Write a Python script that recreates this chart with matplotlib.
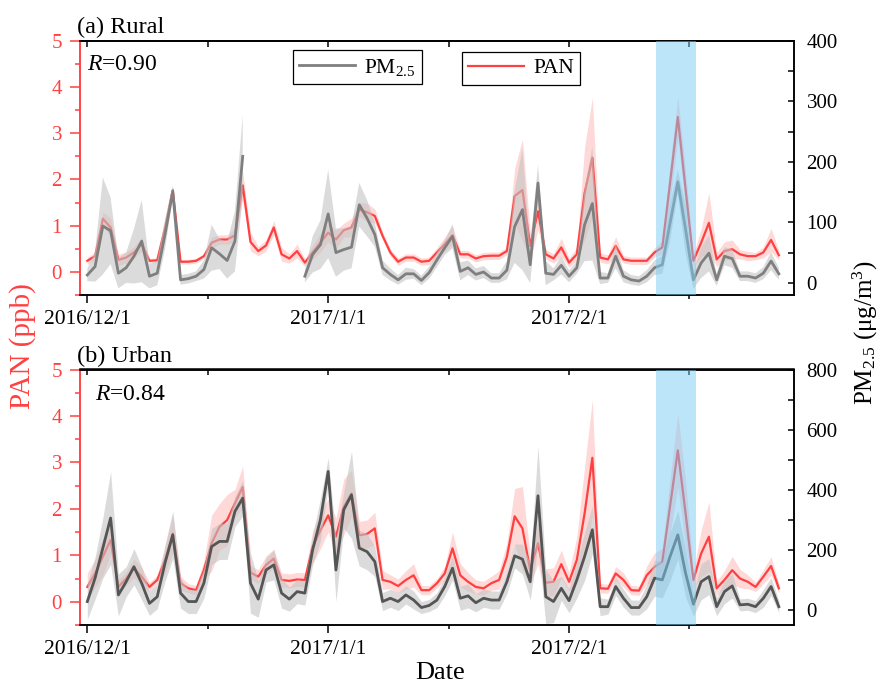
import numpy as np
import pandas as pd
import matplotlib
matplotlib.use("Agg")
import matplotlib.pyplot as plt
import matplotlib.dates as mdates

plt.rcParams['font.family'] = ['Liberation Serif', 'DejaVu Serif']
plt.rcParams['mathtext.fontset'] = 'custom'
plt.rcParams['mathtext.rm'] = 'Liberation Serif'
plt.rcParams['mathtext.it'] = 'Liberation Serif:italic'

# daily data, 2016/12/1 - 2017/2/28
dates = pd.date_range('2016-12-01', '2017-02-28', freq='D')

pan_rural = [0.24, 0.34, 1.15, 0.96, 0.26, 0.31, 0.42, 0.60, 0.24, 0.25,
             0.95, 1.77, 0.22, 0.22, 0.24, 0.34, 0.63, 0.70, 0.70, 0.79,
             1.87, 0.65, 0.45, 0.57, 0.96, 0.38, 0.29, 0.45, 0.20, 0.42,
             0.63, 0.85, 0.70, 0.90, 0.96, 1.35, 1.29, 1.21, 0.78, 0.42,
             0.22, 0.31, 0.31, 0.22, 0.24, 0.42, 0.60, 0.79, 0.38, 0.38,
             0.29, 0.34, 0.35, 0.35, 0.45, 1.64, 1.77, 0.56, 1.31, 0.38,
             0.29, 0.53, 0.20, 0.38, 1.70, 2.47, 0.31, 0.27, 0.56, 0.27,
             0.24, 0.24, 0.24, 0.42, 0.53, 1.93, 3.35, 1.78, 0.24, 0.63,
             1.06, 0.27, 0.45, 0.49, 0.38, 0.34, 0.34, 0.42, 0.69, 0.36]
pan_rural_err = [0.08, 0.08, 0.15, 0.20, 0.12, 0.12, 0.12, 0.15, 0.05, 0.05,
                 0.10, 0.08, 0.05, 0.05, 0.05, 0.05, 0.12, 0.10, 0.10, 0.15,
                 0.30, 0.20, 0.10, 0.12, 0.15, 0.15, 0.10, 0.15, 0.08, 0.15,
                 0.20, 0.20, 0.20, 0.15, 0.20, 0.15, 0.20, 0.15, 0.08, 0.08,
                 0.08, 0.08, 0.08, 0.08, 0.08, 0.10, 0.15, 0.20, 0.08, 0.08,
                 0.08, 0.08, 0.08, 0.08, 0.08, 0.60, 1.10, 0.30, 0.40, 0.10,
                 0.10, 0.20, 0.10, 0.15, 1.00, 1.30, 0.10, 0.10, 0.20, 0.08,
                 0.08, 0.08, 0.08, 0.10, 0.15, 0.40, 0.45, 0.40, 0.15, 0.30,
                 0.65, 0.15, 0.20, 0.20, 0.10, 0.10, 0.08, 0.12, 0.25, 0.10]
pm_rural = [13, 27, 94, 86, 16, 25, 44, 69, 11, 16,
            80, 151, 5, 7, 11, 22, 58, 48, 37, 69,
            209, np.nan, np.nan, np.nan, np.nan, np.nan, np.nan, np.nan, 11, 47,
            63, 114, 50, 55, 59, 129, 107, 80, 25, 14,
            5, 15, 15, 4, 17, 38, 58, 77, 19, 25,
            14, 18, 8, 8, 21, 93, 121, 30, 165, 16,
            14, 29, 11, 25, 96, 131, 8, 8, 44, 11,
            5, 3, 11, 25, 30, 99, 167, 88, 5, 33,
            49, 5, 44, 40, 11, 11, 8, 16, 36, 15]
pm_rural_err = [10, 25, 80, 55, 25, 25, 45, 68, 20, 20,
                25, 10, 8, 8, 8, 15, 38, 25, 30, 50,
                68, np.nan, np.nan, np.nan, np.nan, np.nan, np.nan, np.nan, 10, 30,
                40, 73, 40, 35, 35, 36, 30, 20, 12, 10,
                8, 10, 8, 8, 10, 12, 12, 20, 15, 12,
                10, 10, 8, 8, 15, 60, 100, 30, 30, 20,
                10, 15, 10, 10, 60, 94, 10, 8, 20, 10,
                8, 8, 10, 12, 15, 30, 20, 40, 15, 25,
                30, 10, 15, 15, 8, 8, 8, 10, 15, 10]

pan_urban = [0.32, 0.61, 0.97, 1.33, 0.32, 0.50, 0.72, 0.54, 0.32, 0.47,
             0.90, 1.47, 0.40, 0.29, 0.25, 0.68, 1.26, 1.61, 1.76, 2.12,
             2.47, 0.63, 0.54, 0.79, 0.93, 0.47, 0.45, 0.48, 0.47, 1.18,
             1.54, 1.86, 1.40, 2.04, 2.33, 1.43, 1.46, 1.58, 0.47, 0.43,
             0.34, 0.47, 0.57, 0.25, 0.25, 0.40, 0.61, 1.15, 0.57, 0.43,
             0.32, 0.29, 0.40, 0.47, 0.97, 1.84, 1.58, 0.68, 1.26, 0.41,
             0.43, 0.81, 0.43, 0.90, 1.90, 3.10, 0.29, 0.28, 0.61, 0.47,
             0.25, 0.24, 0.57, 0.75, 0.86, 2.06, 3.26, 1.90, 0.47, 1.04,
             1.40, 0.29, 0.47, 0.68, 0.50, 0.43, 0.32, 0.54, 0.77, 0.29]
pan_urban_err = [0.30, 0.30, 0.40, 0.30, 0.15, 0.15, 0.20, 0.20, 0.10, 0.10,
                 0.30, 0.40, 0.15, 0.10, 0.10, 0.20, 0.60, 0.50, 0.55, 0.30,
                 0.45, 0.15, 0.15, 0.20, 0.20, 0.15, 0.15, 0.15, 0.15, 0.35,
                 0.40, 0.35, 0.40, 0.60, 0.50, 0.30, 0.30, 0.35, 0.20, 0.15,
                 0.15, 0.20, 0.25, 0.10, 0.10, 0.10, 0.15, 0.35, 0.25, 0.20,
                 0.15, 0.15, 0.15, 0.20, 0.30, 0.60, 0.90, 0.30, 0.45, 0.30,
                 0.30, 0.30, 0.20, 0.50, 1.00, 1.25, 0.10, 0.10, 0.15, 0.15,
                 0.10, 0.10, 0.20, 0.30, 0.30, 0.60, 0.80, 0.70, 0.20, 0.50,
                 0.75, 0.15, 0.20, 0.30, 0.20, 0.15, 0.10, 0.15, 0.20, 0.10]
pm_urban = [28, 106, 206, 306, 50, 94, 144, 89, 22, 44,
            156, 250, 56, 28, 28, 89, 211, 228, 228, 328,
            372, 89, 36, 133, 150, 56, 36, 61, 56, 200,
            300, 461, 133, 333, 383, 206, 194, 161, 28, 39,
            28, 50, 33, 8, 15, 33, 78, 139, 39, 47,
            24, 39, 33, 33, 94, 180, 169, 94, 380, 44,
            28, 72, 31, 100, 178, 267, 11, 11, 78, 39,
            8, 8, 44, 106, 100, 178, 250, 122, 19, 94,
            111, 11, 61, 80, 17, 19, 11, 39, 78, 11]
pm_urban_err = [60, 70, 100, 155, 70, 50, 60, 55, 40, 40,
                60, 80, 50, 40, 40, 50, 60, 60, 60, 50,
                60, 100, 60, 40, 50, 50, 40, 40, 40, 50,
                70, 45, 105, 60, 145, 60, 60, 50, 30, 30,
                30, 30, 30, 20, 20, 25, 30, 40, 40, 40,
                30, 30, 30, 30, 40, 40, 50, 60, 165, 90,
                70, 40, 40, 60, 80, 80, 30, 25, 30, 30,
                25, 25, 40, 60, 60, 80, 80, 80, 40, 60,
                60, 30, 40, 40, 20, 20, 20, 30, 30, 20]

r_values = ['0.90', '0.84']
panel_titles = ['(a) Rural', '(b) Urban']
highlight = ('2017-02-12 05:00', '2017-02-17 09:00')

RED = '#ff4040'
x = mdates.date2num(dates)
major = mdates.date2num(pd.to_datetime(['2016-12-01', '2017-01-01', '2017-02-01']))
minor = mdates.date2num(pd.to_datetime(['2016-12-16 12:00', '2017-01-16 12:00', '2017-02-16 12:00']))
major_labels = ['2016/12/1', '2017/1/1', '2017/2/1']
x0 = mdates.date2num(pd.Timestamp('2016-12-01')) - 0.94
x1 = mdates.date2num(pd.Timestamp('2016-12-01')) + 90.95

fig = plt.figure(figsize=(8.82, 6.83), dpi=100)
W, H = 882, 683


def make_panel(top_px, bot_px, pan, pan_err, pm, pm_err, pm_lim, pm_major, pm_minor,
               gray, title, r, title_y, r_xy, legend):
    ax = fig.add_axes([80 / W, 1 - bot_px / H, 714 / W, (bot_px - top_px) / H])
    ax2 = ax.twinx()
    pan = np.array(pan, float)
    pan_err = np.array(pan_err, float)
    pm = np.array(pm, float)
    pm_err = np.array(pm_err, float)

    ax.fill_between(x, pan - pan_err, pan + pan_err, color='#ffb8b8', alpha=0.55, lw=0)
    l_pan, = ax.plot(x, pan, color=RED, lw=1.6, label='PAN')
    ax2.fill_between(x, pm - pm_err, pm + pm_err, color='#c4c4c4', alpha=0.6, lw=0)
    l_pm, = ax2.plot(x, pm, color=gray, lw=2.0, label='PM$_{2.5}$')
    ax2.axvspan(mdates.date2num(pd.Timestamp(highlight[0])),
                mdates.date2num(pd.Timestamp(highlight[1])),
                color='#7dcdf5', alpha=0.5, lw=0, zorder=5)

    ax.set_xlim(x0, x1)
    ax.set_ylim(-0.5, 5)
    ax.set_yticks(range(6))
    ax.set_yticks(np.arange(-0.5, 5, 1), minor=True)
    ax.tick_params(axis='y', which='both', colors=RED, labelsize=15, direction='out', pad=6)
    ax.tick_params(axis='y', which='major', length=7, width=1.1)
    ax.tick_params(axis='y', which='minor', length=3.5, width=1.1)
    ax.spines['left'].set_color(RED)

    ax.set_xticks(major, major_labels)
    ax.set_xticks(minor, minor=True)
    ax.tick_params(axis='x', which='both', direction='out', labelsize=15.5, width=1.1, pad=5)
    ax.tick_params(axis='x', which='major', length=6)
    ax.tick_params(axis='x', which='minor', length=3)
    top = ax.secondary_xaxis('top')
    top.set_xticks(major, ['', '', ''])
    top.set_xticks(minor, minor=True)
    top.tick_params(axis='x', which='both', direction='in', length=4, width=1.1)

    ax2.set_ylim(*pm_lim)
    ax2.set_yticks(pm_major)
    ax2.set_yticks(pm_minor, minor=True)
    ax2.tick_params(axis='y', which='both', direction='in', length=4, width=1.1,
                    labelsize=15, pad=9)
    for a in (ax, ax2):
        for s in a.spines.values():
            s.set_linewidth(1.1)
    ax2.spines['left'].set_color(RED)
    top.spines['top'].set_linewidth(1.1)

    fig.text(77 / W, 1 - title_y / H, title, fontsize=17.5, va='baseline', ha='left')
    fig.text(r_xy[0] / W, 1 - r_xy[1] / H, '$R$=' + r, fontsize=17, va='baseline', ha='left')

    if legend:
        leg1 = ax2.legend(handles=[l_pm], loc='upper left', bbox_to_anchor=(0.298, 0.963),
                          borderaxespad=0, fontsize=15.5, fancybox=False, edgecolor='black',
                          framealpha=1, handlelength=2.6, handletextpad=0.4, borderpad=0.3)
        leg1.get_frame().set_linewidth(0.9)
        leg2 = ax2.legend(handles=[l_pan], loc='upper left', bbox_to_anchor=(0.535, 0.956),
                          borderaxespad=0, fontsize=15.5, fancybox=False, edgecolor='black',
                          framealpha=1, handlelength=2.6, handletextpad=0.4, borderpad=0.3)
        leg2.get_frame().set_linewidth(0.9)
        ax2.add_artist(leg1)
    return ax, ax2


make_panel(40.7, 295, pan_rural, pan_rural_err, pm_rural, pm_rural_err,
           (-20, 400), range(0, 401, 100), range(50, 400, 100), '#7f7f7f',
           panel_titles[0], r_values[0], 33, (87, 70), True)
make_panel(369.5, 625, pan_urban, pan_urban_err, pm_urban, pm_urban_err,
           (-50, 800), range(0, 801, 200), range(100, 800, 200), '#555555',
           panel_titles[1], r_values[1], 362, (95, 400), False)

fig.text(23 / W, 1 - 346 / H, 'PAN (ppb)', rotation=90, color=RED, fontsize=21,
         ha='center', va='center')
fig.text(865 / W, 1 - 333 / H, 'PM$_{2.5}$ (μg/m$^3$)', rotation=90, fontsize=18,
         ha='center', va='center')
fig.text(440 / W, 1 - 673 / H, 'Date', fontsize=19, ha='center', va='center')

fig.savefig('out.png', dpi=100)
